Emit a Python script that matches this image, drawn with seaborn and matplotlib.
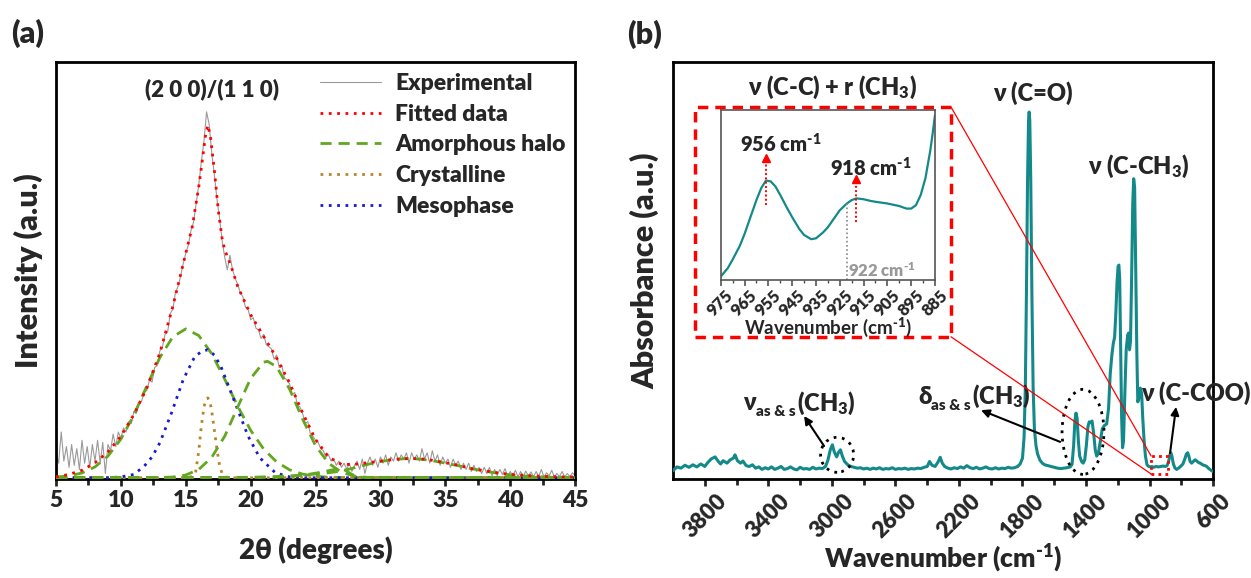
import numpy as np
import matplotlib
matplotlib.use("Agg")
import matplotlib.pyplot as plt
import seaborn as sns
from matplotlib.patches import Ellipse, Rectangle
from matplotlib.ticker import MultipleLocator, FixedLocator

# ---------- (a) XRD data ----------
exp_y = [6.0, 3.5, 11.0, 4.0, 7.5,
         2.5, 8.0, 3.0, 7.0, 2.0,
         9.0, 3.5, 7.5, 2.5, 8.0,
         4.0, 9.0, 3.5, 8.5, 1.0,
         8.0, 6.5, 10.5, 7.5, 11.0,
         9.5, 12.0, 11.0, 13.5, 13.0,
         16.0, 15.5, 18.0, 18.5, 20.5,
         21.0, 23.5, 23.0, 26.5, 27.0,
         30.5, 31.5, 34.5, 35.0, 39.5,
         40.5, 44.5, 46.0, 48.5, 51.5,
         54.0, 56.0, 59.5, 61.5, 66.0,
         70.5, 76.0, 81.0, 88.0, 85.0,
         78.0, 73.0, 67.0, 62.5, 57.0,
         53.0, 50.0, 53.5, 50.0, 48.0,
         46.5, 44.5, 43.5, 41.0, 40.5,
         38.0, 38.5, 36.0, 35.5, 33.5,
         34.5, 32.0, 31.5, 31.0, 28.5,
         29.5, 26.5, 27.0, 24.0, 23.5,
         22.5, 20.0, 20.5, 17.5, 17.0,
         15.5, 13.0, 13.5, 10.5, 10.0,
         9.0, 8.5, 7.0, 6.5, 5.0,
         5.5, 4.0, 4.5, 3.0, 4.0,
         2.5, 3.5, 2.0, 3.5, 1.5,
         3.0, 4.0, 2.0, 4.5, 1.0,
         3.5, 5.0, 3.0, 4.5, 2.5,
         5.0, 3.5, 5.5, 3.0, 5.0,
         4.0, 6.0, 4.0, 5.5, 4.5,
         6.0, 3.5, 6.0, 4.5, 5.5,
         4.0, 7.0, 4.5, 6.0, 3.5,
         6.5, 4.0, 5.5, 3.0, 5.0,
         3.5, 4.5, 2.5, 4.5, 3.0,
         4.0, 2.0, 3.5, 2.0, 3.5,
         1.5, 3.0, 1.5, 2.5, 1.0,
         2.5, 1.0, 2.5, 0.5, 2.0,
         0.5, 2.0, 0.8, 2.2, 0.3,
         1.5, 0.5, 1.8, 0.2, 1.5,
         0.3, 1.6, 0.4, 1.4, 0.2,
         1.5, 0.3, 2.0, 0.2, 1.2,
         0.5, 1.8, 0.2, 1.0, 0.3,
         1.5, 0.2, 1.0, 0.3, 1.2,
         0.5]
exp_x = np.linspace(5, 45, len(exp_y))

fit_x = [5, 6, 7, 8, 9, 10, 11, 12, 13, 14, 15, 15.5, 16, 16.3, 16.5, 16.7, 16.9,
         17.2, 17.5, 17.8, 18, 18.5, 19, 20, 21, 22, 23, 24, 25, 26, 27, 28, 29,
         30, 31, 32, 33, 34, 35, 36, 37, 38, 39, 40, 41, 42, 43, 44, 45]
fit_y = [0.2, 0.8, 1.8, 3.6, 6.2, 10, 15.2, 21.6, 30, 41.2, 54, 60.4, 70, 77, 82, 84.8, 82,
         74, 64.4, 57.5, 54.8, 50.8, 46, 39.2, 34, 28.8, 22.8, 15.6, 9.2, 5, 3.2, 3.2, 3.6,
         4, 4.4, 4.6, 4.6, 4.2, 3.6, 3, 2.2, 1.7, 1.2, 0.8, 0.6, 0.4, 0.3, 0.2, 0.2]

halo1_x = [5, 6, 7, 8, 9, 10, 11, 12, 13, 14, 15, 16, 17, 18, 19, 20, 21, 22, 23, 24, 25, 26, 27, 45]
halo1_y = [0.16, 0.46, 1.15, 2.6, 5.2, 9.3, 15.1, 22.1, 28.9, 33.9, 35.8, 34.2, 29.8, 23.7,
           17.2, 11.4, 6.9, 3.8, 1.9, 0.87, 0.36, 0.12, 0.04, 0]
halo2_x = [5, 13, 14, 15, 16, 17, 18, 19, 20, 21, 21.3, 22, 23, 24, 25, 26, 27, 28, 29, 45]
halo2_y = [0, 0.05, 0.18, 0.66, 2.0, 4.9, 10.0, 17.0, 23.9, 27.8, 28, 26.7, 21.3, 14.1,
           7.7, 3.5, 1.3, 0.4, 0.1, 0]
halo3_x = [5, 22, 23, 24, 25, 26, 26.8, 27.3, 27.8, 28.3, 29, 45]
halo3_y = [0, 0.1, 0.3, 0.6, 1.1, 1.7, 2.2, 1.8, 0.8, 0.2, 0, 0]
halo4_x = [5, 20, 22, 24, 25, 26, 27, 28, 29, 30, 31, 32, 33, 34, 35, 36, 37, 38, 39, 40,
           41, 42, 43, 44, 45]
halo4_y = [0, 0.1, 0.3, 0.6, 0.9, 1.2, 1.6, 2.4, 3.2, 3.9, 4.4, 4.6, 4.5, 4.1, 3.5, 2.9,
           2.2, 1.6, 1.1, 0.7, 0.45, 0.3, 0.15, 0.1, 0.05]

cryst_x = [5, 15.0, 15.5, 15.75, 16.0, 16.2, 16.4, 16.55, 16.7, 16.85, 17.0, 17.2, 17.4,
           17.6, 17.8, 18.0, 18.5, 45]
cryst_y = [0, 0, 0.3, 1.2, 6.5, 12.5, 17.0, 18.8, 19.2, 18.5, 16.0, 11.5, 6.8, 3.0, 1.0,
           0.2, 0, 0]

meso_x = [5, 9, 10, 11, 11.8, 12.4, 13, 13.9, 14.8, 15.7, 16.2, 16.7, 17.2, 17.7, 18.3,
          19.1, 19.8, 20.7, 21.9, 23, 24, 45]
meso_y = [0, 0, 0.2, 0.8, 2.8, 5.0, 8.4, 15.6, 23.6, 29.2, 30.3, 30.8, 29.5, 26.8, 22,
          15.6, 10, 4.8, 1.2, 0.2, 0, 0]

# ---------- (b) FTIR data ----------
ir_x = [4000, 3975, 3950, 3925, 3900, 3875, 3850, 3825, 3800, 3780, 3760, 3735, 3715, 3700,
        3685, 3660, 3640, 3620, 3610, 3595, 3575, 3560, 3540, 3520, 3500, 3480, 3460, 3440,
        3420, 3400, 3380, 3360, 3340, 3320, 3300, 3280, 3260, 3240, 3220, 3200, 3180, 3160,
        3140, 3120, 3100, 3080, 3060, 3040, 3025, 3010, 2997, 2985, 2970, 2958, 2946, 2935,
        2920, 2900, 2880, 2860, 2840, 2820, 2800, 2780, 2760, 2740, 2720, 2700, 2680, 2660,
        2640, 2620, 2600, 2580, 2560, 2540, 2520, 2500, 2480, 2460, 2440, 2420, 2400, 2385,
        2370, 2350, 2330, 2318, 2305, 2290, 2270, 2250, 2230, 2210, 2190, 2170, 2150, 2130,
        2110, 2090, 2070, 2050, 2030, 2010, 1990, 1970, 1950, 1930, 1910, 1890, 1870, 1850,
        1830, 1815, 1800, 1790, 1782, 1775, 1768, 1762, 1758, 1754, 1748, 1741, 1733, 1725,
        1715, 1705, 1690, 1675, 1660, 1640, 1620, 1600, 1580, 1560, 1540, 1520, 1500, 1488,
        1478, 1470, 1463, 1456, 1448, 1440, 1428, 1418, 1408, 1398, 1388, 1380, 1372, 1362,
        1352, 1342, 1333, 1322, 1310, 1298, 1285, 1270, 1258, 1248, 1238, 1228, 1220, 1212,
        1205, 1198, 1193, 1188, 1182, 1176, 1170, 1164, 1156, 1147, 1138, 1132, 1126, 1120,
        1113, 1106, 1100, 1094, 1088, 1080, 1074, 1066, 1058, 1050, 1042, 1034, 1026, 1016,
        1005, 995, 985, 975, 960, 945, 930, 915, 900, 890, 880, 872, 866, 860, 850, 840, 829,
        818, 805, 790, 778, 768, 760, 752, 745, 735, 725, 713, 700, 690, 681, 670, 660, 650,
        640, 630, 620, 610, 600]
ir_y = [2.0, 2.9, 2.6, 3.3, 2.8, 3.4, 2.9, 3.6, 3.0, 4.0, 4.8, 5.3, 4.2, 3.6,
        4.4, 3.8, 4.6, 5.0, 5.8, 4.4, 3.8, 4.3, 3.2, 3.0, 3.4, 2.6, 2.9, 2.3,
        2.7, 2.4, 2.9, 2.3, 2.6, 3.0, 2.3, 2.5, 2.9, 2.4, 2.2, 2.8, 2.4, 2.5,
        2.3, 2.8, 2.4, 2.6, 2.5, 3.0, 4.5, 7.0, 8.2, 6.5, 5.3, 6.4, 7.0, 5.6,
        4.2, 3.4, 3.0, 2.8, 2.6, 2.7, 2.4, 2.6, 2.3, 2.6, 2.4, 2.7, 2.3, 2.5,
        2.4, 2.7, 2.3, 2.5, 2.4, 2.6, 2.3, 2.5, 2.4, 2.6, 2.5, 2.8, 3.0, 4.2,
        3.3, 3.0, 4.2, 5.2, 3.8, 3.0, 2.6, 2.4, 2.7, 2.5, 2.9, 2.6, 3.2, 2.7,
        2.5, 2.8, 2.4, 2.6, 2.9, 2.5, 2.4, 2.7, 2.4, 2.6, 2.5, 2.8, 2.6, 2.7,
        3.0, 3.6, 5.0, 10.0, 22.0, 45.0, 72.0, 86.0, 88.0, 86.0, 72.0, 45.0, 22.0, 12.0,
        8.0, 6.0, 4.5, 3.8, 3.4, 3.2, 3.0, 2.8, 2.6, 2.5, 2.6, 2.7, 2.9, 3.5,
        8.0, 14.0, 15.8, 14.5, 9.0, 5.5, 4.2, 3.8, 4.6, 8.0, 12.5, 13.7, 13.5, 13.9,
        11.0, 7.0, 5.5, 6.2, 9.0, 12.0, 12.8, 13.2, 17.0, 25.0, 29.5, 32.6, 34.0, 40.0,
        47.0, 51.0, 51.3, 48.0, 32.0, 15.0, 7.5, 9.0, 20.0, 31.0, 34.5, 35.0, 31.0, 33.0,
        48.0, 66.0, 72.0, 70.0, 52.0, 30.0, 18.5, 19.5, 21.8, 20.5, 14.0, 9.0, 5.5, 3.4,
        3.0, 2.9, 3.0, 2.8, 3.0, 2.9, 3.0, 3.1, 3.0, 3.2, 4.2, 5.8, 6.3, 5.6, 3.6, 2.6, 2.3,
        2.6, 3.0, 3.6, 4.8, 6.0, 6.3, 5.4, 4.2, 3.8, 4.2, 4.6, 4.2, 3.9, 3.8, 3.5, 3.3, 3.2,
        3.0, 2.6, 2.3, 2.0, 1.8]

# inset (zoom 975-885 cm-1)
in_x = [975, 972, 970, 967, 965, 962, 960, 958, 956, 954, 952, 950, 947, 945, 942, 940,
        937, 935, 932, 930, 927, 925, 922, 920, 918, 915, 912, 910, 905, 900, 897, 895,
        893, 891, 889, 887, 886, 885]
in_y = [0.02, 0.07, 0.12, 0.2, 0.27, 0.39, 0.47, 0.54, 0.585, 0.58, 0.55, 0.50, 0.42, 0.37,
        0.30, 0.265, 0.24, 0.245, 0.28, 0.31, 0.37, 0.41, 0.45, 0.47, 0.48, 0.475, 0.465,
        0.46, 0.45, 0.435, 0.42, 0.42, 0.44, 0.5, 0.6, 0.76, 0.86, 0.97]
in_ticks = [975, 965, 955, 945, 935, 925, 915, 905, 895, 885]

b_major = [3800, 3400, 3000, 2600, 2200, 1800, 1400, 1000, 600]
b_minor = [3600, 3200, 2800, 2400, 2000, 1600, 1200, 800]

TEAL = '#14898a'
RED = '#ff0000'
GREEN = '#62a71f'
BROWN = '#b8862a'
BLUE = '#1a1acc'
GRAY = '#9a9a9a'
W = 'heavy'
CM = r'cm$^{\text{-1}}$'

sns.set_style("ticks")
plt.rcParams['font.family'] = ['Lato', 'DejaVu Sans']
plt.rcParams['font.weight'] = W
plt.rcParams['mathtext.fontset'] = 'custom'
plt.rcParams['mathtext.rm'] = 'Lato:heavy'
plt.rcParams['mathtext.it'] = 'Lato:heavy'
plt.rcParams['mathtext.bf'] = 'Lato:heavy'

fig = plt.figure(figsize=(12.51, 5.78), dpi=100)
ax_a = fig.add_axes([0.0448, 0.1713, 0.4149, 0.7215])
ax_b = fig.add_axes([0.538, 0.1713, 0.4317, 0.7215])
ax_in = fig.add_axes([0.5761, 0.5156, 0.1713, 0.2941])

dot = (0, (1, 2))
dash = (0, (4, 2.5))

# ---------- panel (a) ----------
sns.lineplot(x=exp_x, y=exp_y, ax=ax_a, color=GRAY, lw=0.8, label='Experimental',
             estimator=None, zorder=2)
sns.lineplot(x=fit_x, y=fit_y, ax=ax_a, color=RED, lw=2, linestyle=dot,
             label='Fitted data', estimator=None, zorder=6)
sns.lineplot(x=halo1_x, y=halo1_y, ax=ax_a, color=GREEN, lw=2, linestyle=dash,
             label='Amorphous halo', estimator=None, zorder=4)
sns.lineplot(x=cryst_x, y=cryst_y, ax=ax_a, color=BROWN, lw=2, linestyle=dot,
             label='Crystalline', estimator=None, zorder=4)
sns.lineplot(x=meso_x, y=meso_y, ax=ax_a, color=BLUE, lw=2, linestyle=dot,
             label='Mesophase', estimator=None, zorder=4)
for hx, hy in [(halo2_x, halo2_y), (halo3_x, halo3_y), (halo4_x, halo4_y)]:
    sns.lineplot(x=hx, y=hy, ax=ax_a, color=GREEN, lw=2, linestyle=dash,
                 estimator=None, zorder=4)

ax_a.set_xlim(5, 45)
ax_a.set_ylim(-0.3, 100)
ax_a.set_yticks([])
ax_a.xaxis.set_major_locator(MultipleLocator(5))
ax_a.xaxis.set_minor_locator(MultipleLocator(2.5))
ax_a.set_xlabel('2θ (degrees)', fontsize=20, fontweight=W)
ax_a.xaxis.set_label_coords(0.5, -0.170)
ax_a.xaxis.label.set_va('center')
ax_a.set_ylabel('Intensity (a.u.)', fontsize=22, fontweight=W)
ax_a.yaxis.set_label_coords(-0.054, 0.5)
ax_a.yaxis.label.set_va('center')
ax_a.text(17.0, 93.4, '(2 0 0)/(1 1 0)', ha='center', va='center', fontsize=16,
          fontweight=W)
leg = ax_a.legend(loc='upper left', bbox_to_anchor=(0.49, 0.995), frameon=False,
                  fontsize=16.5, handlelength=2.7, handletextpad=0.6, labelspacing=0.42,
                  borderaxespad=0)
for t in leg.get_texts():
    t.set_fontweight(W)

# ---------- panel (b) ----------
sns.lineplot(x=ir_x, y=ir_y, ax=ax_b, color=TEAL, lw=2.2, estimator=None, zorder=3)
ax_b.set_xlim(4000, 600)
ax_b.set_ylim(0, 100)
ax_b.set_yticks([])
ax_b.xaxis.set_major_locator(FixedLocator(b_major))
ax_b.xaxis.set_minor_locator(FixedLocator(b_minor))
ax_b.set_xticklabels([str(v) for v in b_major], rotation=45)
ax_b.set_xlabel('Wavenumber (' + CM + ')', fontsize=19, fontweight=W)
ax_b.xaxis.set_label_coords(0.5, -0.192)
ax_b.xaxis.label.set_va('center')
ax_b.set_ylabel('Absorbance (a.u.)', fontsize=22, fontweight=W)
ax_b.yaxis.set_label_coords(-0.052, 0.5)
ax_b.yaxis.label.set_va('center')

for ax, tsize in ((ax_a, 16.5), (ax_b, 16)):
    for s in ax.spines.values():
        s.set_linewidth(2)
        s.set_color('black')
    ax.tick_params(axis='x', which='major', direction='out', length=5, width=2,
                   labelsize=tsize, pad=3)
    ax.tick_params(axis='x', which='minor', direction='out', length=4, width=2)
    for lab in ax.get_xticklabels():
        lab.set_fontweight(W)

# peak labels
ax_b.text(1733, 92.6, 'ν (C=O)', ha='center', va='center', fontsize=17)
ax_b.text(1072, 75, 'ν (C-CH$_3$)', ha='center', va='center', fontsize=17)
ax_b.text(2999, 94, 'ν (C-C) + r (CH$_3$)', ha='center', va='center', fontsize=17)
ax_b.text(707, 20.6, 'ν (C-COO)', ha='center', va='center', fontsize=17)
for sym, wn_left, yv in [('ν', 3559, 18.2), ('δ', 2457, 19.7)]:
    ax_b.annotate(sym, xy=(wn_left, yv), xytext=(0, 0), textcoords='offset points',
                  ha='left', va='center', fontsize=17)
    ax_b.annotate('as & s', xy=(wn_left, yv), xytext=(9, -6), textcoords='offset points',
                  ha='left', va='center', fontsize=11)
    ax_b.annotate('(CH$_3$)', xy=(wn_left, yv), xytext=(39, 0), textcoords='offset points',
                  ha='left', va='center', fontsize=17)

arrow = dict(arrowstyle='-|>', color='black', lw=1.5, mutation_scale=12,
             shrinkA=0, shrinkB=0)
ax_b.annotate('', xy=(3175, 15.1), xytext=(3049, 7.9), arrowprops=arrow)
ax_b.annotate('', xy=(2061, 16.5), xytext=(1563, 8.9), arrowprops=arrow)
ax_b.annotate('', xy=(833, 17.3), xytext=(871, 6.2), arrowprops=arrow)

ax_b.add_patch(Ellipse((2967, 5.8), 208, 8.4, fill=False, ec='black', lw=2,
                       ls=(0, (1, 2)), zorder=4))
ax_b.add_patch(Ellipse((1419, 11.3), 264, 20.4, fill=False, ec='black', lw=2,
                       ls=(0, (1, 2)), zorder=4))

# zoom boxes and connecting lines
ax_b.add_patch(Rectangle((3861, 34.1), 2250 - 3861, 89.2 - 34.1, fill=False, ec=RED,
                         lw=2.5, ls=(0, (3, 2)), clip_on=False, zorder=5))
ax_b.add_patch(Rectangle((990, 1.2), 883 - 990, 5.5 - 1.2, fill=False, ec=RED,
                         lw=2, ls=(0, (1, 1.5)), clip_on=False, zorder=5))
ax_b.plot([2250, 990], [89.2, 5.5], color=RED, lw=0.9, zorder=5)
ax_b.plot([2250, 990], [34.1, 1.2], color=RED, lw=0.9, zorder=5)

# ---------- inset ----------
sns.lineplot(x=in_x, y=in_y, ax=ax_in, color=TEAL, lw=1.6, estimator=None)
ax_in.set_xlim(975, 885)
ax_in.set_ylim(0, 1)
ax_in.set_yticks([])
ax_in.xaxis.set_major_locator(FixedLocator(in_ticks))
ax_in.xaxis.set_minor_locator(MultipleLocator(5))
ax_in.set_xticklabels([str(v) for v in in_ticks], rotation=45)
ax_in.tick_params(axis='x', which='major', direction='out', length=4, width=1.2,
                  labelsize=12, pad=1, color='#555555')
ax_in.tick_params(axis='x', which='minor', direction='out', length=2.5, width=1,
                  color='#555555')
for lab in ax_in.get_xticklabels():
    lab.set_fontweight(W)
for s in ax_in.spines.values():
    s.set_linewidth(1.2)
    s.set_color('#555555')
ax_in.set_xlabel('Wavenumber (' + CM + ')', fontsize=13.5, fontweight='bold')
ax_in.xaxis.set_label_coords(0.5, -0.276)
ax_in.xaxis.label.set_va('center')

ax_in.plot([922, 922], [0, 0.45], color='#888888', lw=1.2, ls=(0, (1, 1.5)))
ax_in.text(921.5, 0.053, '922 ' + CM, color='#999999', fontsize=12,
           ha='left', va='center')
for wn, y0, y1, lab, tx, ty in [(956, 0.44, 0.70, '956 ' + CM, 950, 0.80),
                                (918, 0.343, 0.575, '918 ' + CM, 912, 0.66)]:
    ax_in.plot([wn, wn], [y0, y1], color=RED, lw=1.4, ls=(0, (1, 1.2)))
    ax_in.plot([wn], [y1 + 0.02], marker='^', color=RED, ms=6, mec=RED)
    ax_in.text(tx, ty, lab, ha='center', va='center', fontsize=14.5)

fig.text(28 / 1251, 1 - 33 / 578, '(a)', ha='center', va='center', fontsize=22,
         fontweight=W)
fig.text(645 / 1251, 1 - 34 / 578, '(b)', ha='center', va='center', fontsize=22,
         fontweight=W)

fig.savefig('out.png', dpi=100)
